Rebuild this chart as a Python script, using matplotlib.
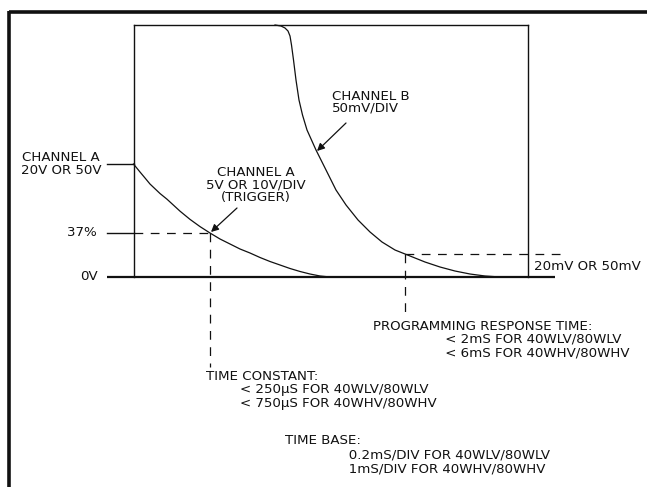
import matplotlib
matplotlib.use("Agg")
import matplotlib.pyplot as plt
from matplotlib.lines import Line2D

plt.rcParams['font.family'] = ['DejaVu Sans']

# ---- data (time in screen divisions, level in vertical divisions) ----
chA_t = [0.000, 0.165, 0.292, 0.418, 0.672, 0.849, 1.179, 1.432, 1.686, 1.939,
         2.193, 2.446, 2.700, 2.953, 3.207, 3.460, 3.714, 3.967, 4.221, 4.474,
         4.728, 4.981]
chA_v = [3.587, 3.333, 3.143, 2.952, 2.650, 2.470, 2.090, 1.830, 1.600, 1.397,
         1.206, 1.048, 0.889, 0.762, 0.619, 0.492, 0.381, 0.270, 0.175, 0.095,
         0.032, 0.000]

chB_t = [3.587, 3.739, 3.840, 3.916, 3.967, 4.005, 4.056, 4.119, 4.195, 4.284,
         4.398, 4.626, 4.880, 5.133, 5.387, 5.691, 5.995, 6.299, 6.629, 7.009,
         7.389, 7.770, 8.150, 8.530, 8.910, 9.290]
chB_v = [8.000, 7.968, 7.905, 7.810, 7.651, 7.365, 6.889, 6.254, 5.619, 5.143,
         4.667, 4.032, 3.397, 2.762, 2.286, 1.810, 1.429, 1.111, 0.857, 0.667,
         0.476, 0.317, 0.190, 0.095, 0.032, 0.000]

tc_point = (1.94, 1.40)      # 37 % point (time constant)
resp_point = (6.88, 0.73)    # 20mV / 50mV point (response time)
chA_start = 3.587

INK = '#111111'

fig = plt.figure(figsize=(6.47, 4.87), dpi=100)

# overlay axes in pixel units for the frame and labels
ov = fig.add_axes([0, 0, 1, 1])
ov.set_xlim(0, 647)
ov.set_ylim(487, 0)
ov.axis('off')

# outer frame (cropped at right/bottom)
ov.add_line(Line2D([8.5, 647], [12, 12], color=INK, lw=2.6, solid_capstyle='butt'))
ov.add_line(Line2D([8.5, 8.5], [11, 487], color=INK, lw=2.6, solid_capstyle='butt'))

# screen axes
W, H = 394.5, 252
ax = fig.add_axes([133.5 / 647, (487 - 277) / 487, W / 647, H / 487])
ax.set_xlim(0, 10)
ax.set_ylim(0, 8)
ax.patch.set_visible(False)
ax.set_xticks([])
ax.set_yticks([])
for s in ['left', 'right', 'top']:
    ax.spines[s].set_linewidth(1.0)
    ax.spines[s].set_color(INK)
ax.spines['bottom'].set_visible(False)

# baseline (0V)
ax.plot([-0.67, 10.68], [0, 0], color=INK, lw=1.6, clip_on=False, solid_capstyle='butt')
# channel A lead-in
ax.plot([-0.67, 0], [chA_start, chA_start], color=INK, lw=1.0, clip_on=False)
# 37% lead-in
ax.plot([-0.67, 0], [tc_point[1], tc_point[1]], color=INK, lw=1.0, clip_on=False)

# curves
ax.plot(chA_t, chA_v, color=INK, lw=0.9, clip_on=False, solid_joinstyle='round')
ax.plot(chB_t, chB_v, color=INK, lw=0.9, clip_on=False, solid_joinstyle='round')

dash = (7, 6)
# 37% dashed lines
ax.plot([0, tc_point[0]], [tc_point[1], tc_point[1]], color=INK, lw=0.9,
        dashes=dash, clip_on=False)
ax.plot([tc_point[0], tc_point[0]], [tc_point[1], -2.86], color=INK, lw=0.9,
        dashes=dash, clip_on=False)
# response dashed lines
ax.plot([resp_point[0], 10.86], [resp_point[1], resp_point[1]], color=INK, lw=0.9,
        dashes=dash, clip_on=False)
ax.plot([resp_point[0], resp_point[0]], [resp_point[1], -1.21], color=INK, lw=0.9,
        dashes=dash, clip_on=False)

# arrows
ap = dict(arrowstyle='-|>', lw=0.9, color=INK, mutation_scale=11, shrinkA=0, shrinkB=0)
ov.annotate('', xy=(317, 151), xytext=(346, 123), arrowprops=ap)
ov.annotate('', xy=(211, 232), xytext=(237, 208), arrowprops=ap)

fs = 9.6
def txt(x, y, s, ha='left', ls=1.2):
    ov.text(x, y, s, ha=ha, va='center', fontsize=fs, color=INK,
            linespacing=ls, multialignment=ha)

txt(61, 164, 'CHANNEL A\n20V OR 50V', ha='center', ls=0.92)
txt(97, 233, '37%', ha='right')
txt(98, 277, '0V', ha='right')
txt(332, 102.5, 'CHANNEL B\n50mV/DIV', ha='left', ls=0.86)
txt(256, 185, 'CHANNEL A\n5V OR 10V/DIV\n(TRIGGER)', ha='center', ls=0.92)
txt(534, 267, '20mV OR 50mV')
pad = ' '
txt(373, 339.5, 'PROGRAMMING RESPONSE TIME:\n'
    + pad * 17 + '< 2mS FOR 40WLV/80WLV\n'
    + pad * 17 + '< 6mS FOR 40WHV/80WHV', ls=1.02)
txt(206, 390, 'TIME CONSTANT:\n'
    + pad * 8 + '< 250\u00b5S FOR 40WLV/80WLV\n'
    + pad * 8 + '< 750\u00b5S FOR 40WHV/80WHV', ls=1.0)
txt(285, 454.5, 'TIME BASE:\n'
    + pad * 15 + '0.2mS/DIV FOR 40WLV/80WLV\n'
    + pad * 15 + '1mS/DIV FOR 40WHV/80WHV', ls=1.1)

fig.savefig('out.png', dpi=100)
